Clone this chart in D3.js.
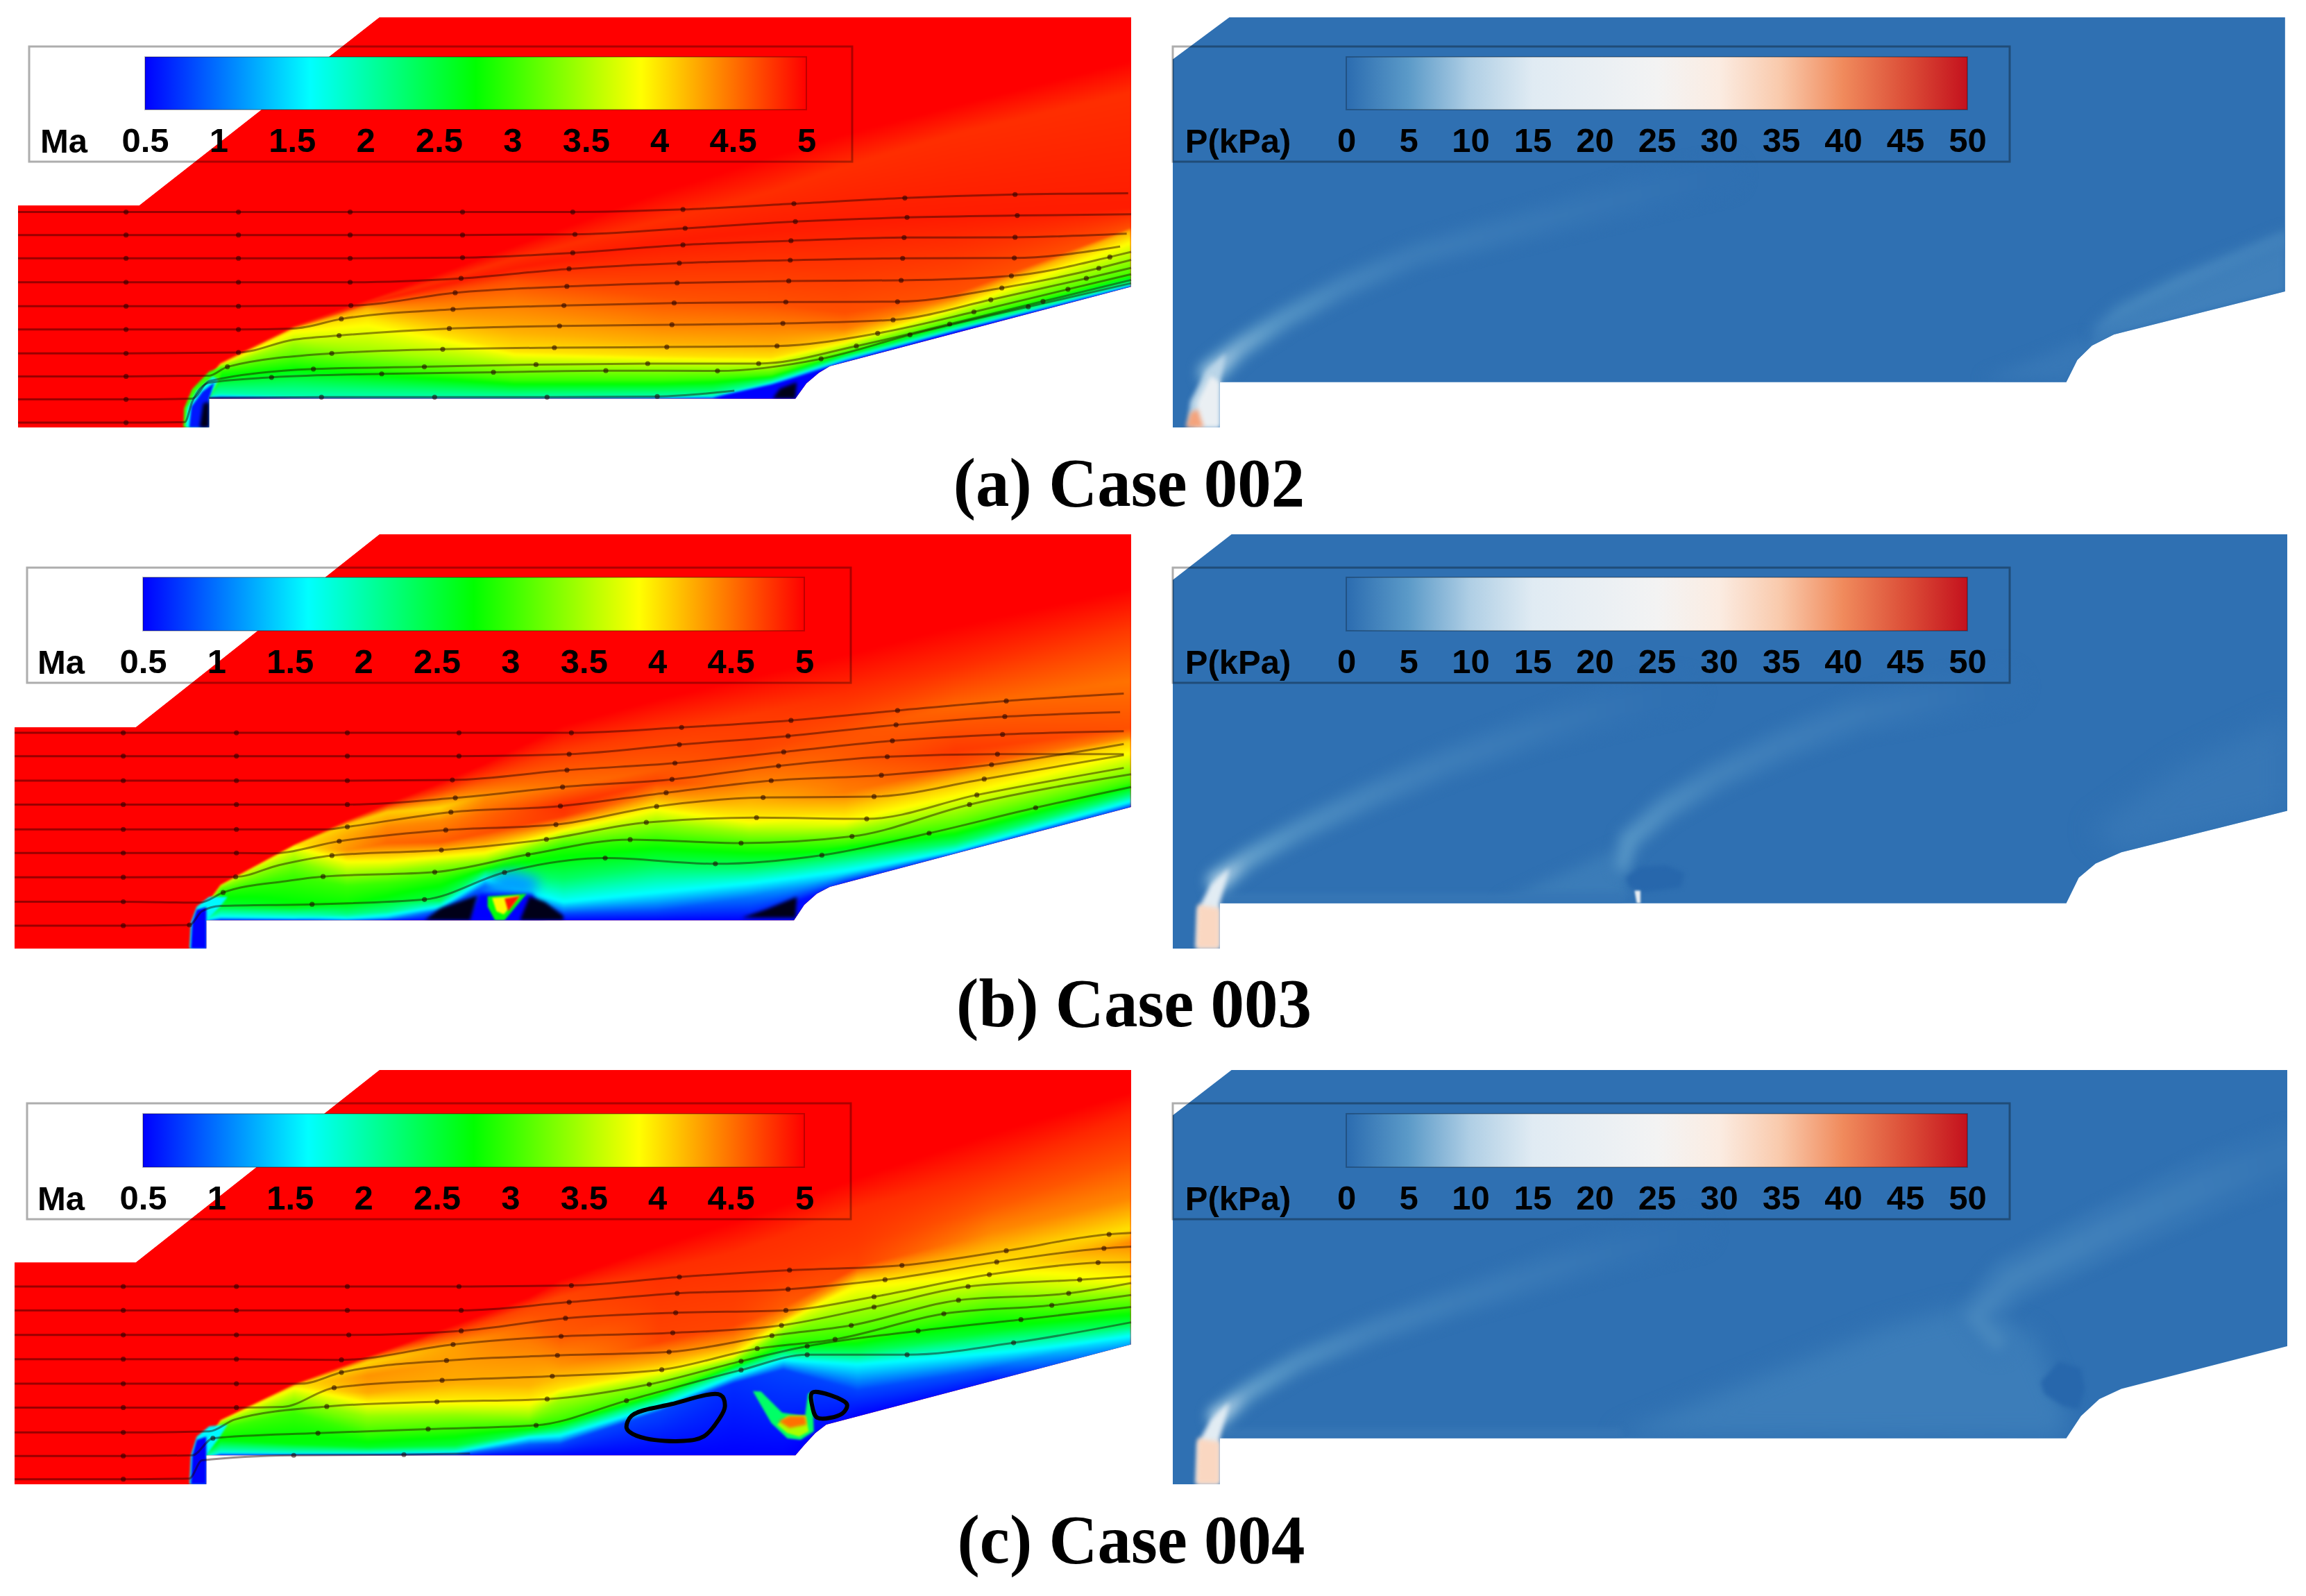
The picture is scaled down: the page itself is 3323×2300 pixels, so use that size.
<!DOCTYPE html>
<html>
<head>
<meta charset="utf-8">
<script src="https://cdn.jsdelivr.net/npm/d3@7"></script>
<style>
html, body { margin: 0; padding: 0; background: #fff; }
#field, #marks { position: absolute; left: 0; top: 0; }
</style>
</head>
<body>
<canvas id="field" width="3323" height="2300"></canvas>
<svg id="marks" width="3323" height="2300"></svg>
<script>
// colour bars
const machTicks = [0.5, 1, 1.5, 2, 2.5, 3, 3.5, 4, 4.5, 5];
const pressureTicks = [0, 5, 10, 15, 20, 25, 30, 35, 40, 45, 50];
const machStops = [0.5, 1.625, 2.75, 3.875, 5];
const machStopColors = ["#0000ff", "#00ffff", "#00ff00", "#ffff00", "#ff0000"];
const pressureStops = [0, 5, 10, 15, 25, 30, 35, 40, 45, 50];
const pressureStopColors = ["#2b6cb0", "#5b9ac8", "#b0cfe5", "#e0ebf3", "#f3f3f3", "#fbece2", "#f9c9ab", "#f08a5c", "#dc4f38", "#c4111d"];
const captions = ["(a) Case 002", "(b) Case 003", "(c) Case 004"];

// Outlines of the flow domains, in read-off units of each panel
const caseAMachDomain = [[25,645],[190,645],[517,55],[1540,55],[1540,899],[1130,1148],[1115,1169],[1098,1202],[1083,1250],[285,1250],[285,1340],[25,1340]];
const caseBMachDomain = [[20,628],[185,628],[517,22],[1540,22],[1540,878],[1130,1128],[1112,1150],[1095,1185],[1081,1233],[281,1233],[281,1322],[20,1322]];
const caseCMachDomain = [[20,590],[185,590],[517,25],[1540,25],[1540,830],[1125,1065],[1110,1090],[1095,1125],[1083,1155],[281,1155],[281,1240],[20,1240]];
const caseAPressureDomain = [[28,187],[105,55],[1543,55],[1543,915],[1310,1050],[1280,1085],[1260,1130],[1245,1200],[92,1200],[92,1342],[28,1342]];
const caseBPressureDomain = [[28,165],[108,22],[1546,22],[1546,890],[1320,1020],[1285,1055],[1262,1100],[1245,1180],[92,1180],[92,1322],[28,1322]];
const caseCPressureDomain = [[28,158],[108,25],[1546,25],[1546,835],[1320,960],[1290,990],[1265,1040],[1245,1105],[92,1105],[92,1240],[28,1240]];

// Mach profiles: at each station, the heights [ys] where the Mach number has the values [machs]
const caseAStations = [25, 250, 262, 300, 400, 500, 700, 900, 970, 1050, 1150, 1300, 1540];
const caseALevels = [5, 4.8, 4.88, 4.65, 4.44, 4.22, 4, 3.46, 3, 1.95, 0.5];
const caseAProfiles = [
  [[1400], [5]],
  [[1400], [5]],
  [[1240,1241,1242,1243,1244,1245,1246,1247,1248,1249,1250], caseALevels],
  [[1135,1136,1137,1138,1139,1140,1141,1145,1160,1235,1250], caseALevels],
  [[1020,1022,1024,1026,1027,1028,1030,1075,1130,1243,1250], caseALevels],
  [[940,945,949,953,957,967,995,1100,1150,1245,1250], caseALevels],
  [[770,810,840,880,950,1040,1100,1145,1190,1246,1250], caseALevels],
  [[600,690,760,930,1010,1075,1115,1150,1190,1243,1250], caseALevels],
  [[550,650,740,940,1015,1080,1118,1152,1185,1240,1250], caseALevels],
  [[490,600,720,950,1020,1085,1120,1150,1175,1196,1210], caseALevels],
  [[420,520,700,980,1030,1050,1068,1090,1105,1122,1135], caseALevels],
  [[330,420,680,920,932,945,960,985,1008,1030,1040], caseALevels],
  [[190,290,650,712,716,722,745,810,860,890,900], caseALevels]
];

const caseBStations = [20, 255, 265, 300, 400, 472, 527, 599, 660, 767, 893, 1020, 1150, 1300, 1540];
const caseBProfiles = [
  [[1400], [5]],
  [[1400], [5]],
  [[1230,1231,1232,1233,1234,1235,1236,1237,1238,1239,1240,1241], [5,4.5,3.9,3.7,3.6,3.5,3.3,2.9,2.5,1.6,0.9,0.5]],
  [[1120,1121,1122,1123,1124,1125,1130,1145,1190,1222,1230,1233], [5,4.5,3.9,3.7,3.6,3.5,3.3,2.9,2.5,1.6,0.9,0.5]],
  [[994,996,998,1000,1001,1014,1050,1095,1190,1226,1231,1233], [5,4.6,4,4,3.9,3.7,3.3,3,2.7,1.6,0.9,0.5]],
  [[918,924,932,965,1012,1050,1089,1125,1176,1212,1228,1233], [5,4.6,4.1,4.25,4.35,3.85,3.4,3,2.8,2.2,1.6,0.8]],
  [[866,876,892,940,990,1045,1080,1115,1165,1205,1225,1233], [5,4.7,4.1,4.4,4.55,3.9,3.4,3,2.7,2.1,1.3,0.5]],
  [[800,830,879,921,987,1031,1060,1104,1169,1190,1205,1233], [5,4.7,4.05,4.4,4.6,3.9,3.4,2.9,2.4,1.6,0.8,0.5]],
  [[740,780,840,900,958,1016,1045,1067,1085,1105,1125,1233], [5,4.75,4.35,4.55,4.65,3.95,3.4,2.9,2.2,1.6,0.9,0.5]],
  [[620,700,813,871,905,945,970,1000,1104,1176,1212,1233], [5,4.75,4.5,4.8,4.75,4,3.4,2.95,2.3,1.6,0.8,0.5]],
  [[540,640,760,798,834,877,928,980,1067,1147,1205,1233], [5,4.75,4.6,4.7,4.4,3.95,3.4,2.95,2.3,1.6,0.8,0.5]],
  [[470,590,700,813,871,922,959,995,1067,1118,1161,1233], [5,4.75,4.7,4.4,4.15,3.9,3.4,3,2.3,1.6,1,0.5]],
  [[400,520,640,730,830,885,925,955,990,1040,1085,1116], [5,4.8,4.65,4.6,4.45,4.1,3.85,3.4,3,2.2,1.5,0.6]],
  [[310,440,560,700,750,790,840,895,945,990,1015,1024], [5,4.8,4.55,4.75,4.65,4.2,3.9,3.4,3,2.3,1.6,0.7]],
  [[190,320,480,630,655,670,710,760,800,835,860,878], [5,4.75,4.5,4.65,4.4,4.1,3.85,3.4,3,2.3,1.6,0.7]]
];

const caseCStations = [20, 255, 265, 300, 400, 500, 620, 720, 762, 897, 998, 1066, 1167, 1350, 1540];
const caseCProfiles = [
  [[1400], [5]],
  [[1400], [5]],
  [[1160,1161,1162,1163,1164,1165,1166,1167,1168,1169,1170,1171], [5,4.4,4,3.9,3.8,3.6,3.3,3,2.7,1.8,1,0.5]],
  [[1050,1051,1052,1053,1054,1055,1060,1075,1110,1145,1152,1155], [5,4.4,4,3.9,3.8,3.6,3.3,3,2.7,1.8,1,0.5]],
  [[945,947,950,953,955,975,1000,1030,1120,1148,1153,1155], [5,4.6,4.1,4,3.9,3.6,3.3,3,2.7,1.8,1,0.5]],
  [[865,870,880,920,970,1000,1040,1090,1130,1148,1153,1155], [5,4.6,4.05,4.35,4.25,3.9,3.4,3,2.6,1.8,1,0.5]],
  [[770,790,830,880,940,1000,1035,1075,1125,1143,1152,1155], [5,4.75,4.3,4.3,4.25,3.9,3.4,3,2.5,1.8,1,0.5]],
  [[690,720,780,850,950,1000,1040,1070,1090,1100,1122,1155], [5,4.7,4.55,4.4,4.2,3.9,3.4,2.95,2.3,1.7,0.9,0.5]],
  [[640,690,808,889,930,957,991,1052,1080,1097,1121,1155], [5,4.7,4.6,4.35,4.15,4,3.46,3,2.2,1.6,0.8,0.5]],
  [[540,610,700,821,882,909,936,970,990,1011,1025,1155], [5,4.8,4.75,4.7,4.2,3.9,3.4,3,2.2,1.6,0.8,0.5]],
  [[470,560,660,774,828,862,875,889,905,923,943,1155], [5,4.8,4.75,4.7,4.3,3.9,3.4,3,2.2,1.6,0.7,0.5]],
  [[420,510,620,720,750,774,800,828,855,875,903,1155], [5,4.8,4.75,4.6,4.3,3.7,3.2,2.9,2.2,1.6,0.8,0.5]],
  [[340,430,530,600,625,650,720,815,855,889,964,1041], [5,4.8,4.75,4.7,4.3,3.95,3.5,2.9,2.3,1.6,0.8,0.5]],
  [[210,320,430,500,560,620,680,730,790,850,900,938], [5,4.8,4.6,4.4,4.15,3.9,3.4,3,2.6,1.7,0.9,0.6]],
  [[90,150,280,400,490,530,640,680,720,770,800,830], [5,4.85,4.65,4.4,4,4.4,3.9,3.4,3,2.4,1.7,1.2]]
];

// Small Mach patches that do not fit a column profile: [Mach, outline, blur]
const caseAMachPatches = [
  [3, [[250,1340],[251,1280],[262,1220],[285,1165],[303,1150],[298,1200],[285,1250],[285,1340]], 1.5],
  [1.7, [[253,1340],[255,1280],[268,1225],[290,1180],[298,1190],[285,1250],[285,1340]], 1.5],
  [0.6, [[258,1340],[261,1275],[276,1228],[292,1200],[285,1250],[285,1340]], 1.5],
  [0.5, [[970,1250],[1040,1215],[1085,1192],[1083,1250]], 2]
];
const caseBMachPatches = [
  [1.6, [[258,1322],[260,1240],[268,1190],[285,1160],[310,1160],[298,1195],[281,1233],[281,1322]], 1.5],
  [0.5, [[260,1322],[262,1240],[268,1200],[281,1192],[281,1322]], 1.5],
  [1.2, [[652,1155],[680,1085],[700,1078],[735,1105],[725,1158]], 9],
  [0.5, [[640,1233],[652,1150],[725,1150],[742,1233]], 3],
  [2.7, [[664,1158],[717,1150],[687,1233],[674,1233],[664,1190]], 1.5],
  [3.9, [[670,1163],[708,1156],[686,1215],[676,1205]], 1.5],
  [4.9, [[687,1165],[708,1157],[692,1205]], 1.5]
];
const caseCMachPatches = [
  [1.6, [[258,1240],[260,1155],[268,1100],[285,1070],[310,1065],[298,1105],[281,1155],[281,1240]], 1.5],
  [0.5, [[260,1240],[262,1155],[268,1110],[281,1100],[281,1240]], 1.5],
  [2.3, [[1025,967],[1036,968],[1065,1030],[1096,1040],[1100,975],[1106,968],[1108,1085],[1090,1110],[1072,1105],[1050,1060]], 1.5],
  [3.5, [[1058,1065],[1072,1040],[1097,1038],[1101,1085],[1088,1100],[1072,1090]], 1.5],
  [4.5, [[1060,1055],[1075,1040],[1096,1040],[1098,1065],[1075,1075]], 2]
];

// Recirculation areas where the streamlines pack into black
const caseADensePatches = [[[272,1340],[277,1265],[285,1260],[285,1340]], [[1052,1250],[1062,1218],[1085,1198],[1083,1250]]];
const caseBDensePatches = [
  [[578,1233],[600,1195],[650,1155],[640,1233]],
  [[708,1233],[721,1158],[742,1176],[767,1219],[767,1233]],
  [[1010,1225],[1042,1200],[1085,1160],[1083,1225]]
];
const caseCDensePatches = [];
const caseCBubbles = [
  [[853,1073],[860,1039],[914,1005],[981,978],[987,1012],[978,1052],[958,1100],[931,1113],[880,1106],[857,1086]],
  [[1106,971],[1153,1005],[1147,1032],[1113,1045],[1106,1012]]
];

// Streamlines, one point per arrow mark on the line; a third entry means the point carries no mark
const caseAStreamlines = [
  [[25,665],[172,665],[325,665],[477,665],[630,665],[780,665],[930,657],[1081,639],[1232,621],[1382,610],[1536,606]],
  [[25,737],[172,737],[325,737],[477,737],[630,737],[783,735],[933,716],[1083,695],[1235,682],[1385,676],[1540,672]],
  [[25,810],[172,810],[325,810],[477,810],[630,808],[780,793],[930,768],[1077,755],[1231,745],[1382,744],[1534,733]],
  [[25,885],[172,885],[325,885],[477,885],[628,873],[775,843],[925,825],[1076,816],[1229,810],[1381,809],[1525,773]],
  [[25,960],[172,960],[325,960],[478,958],[620,918],[772,898],[922,887],[1074,881],[1227,879],[1377,865],[1511,806],[1540,790]],
  [[25,1033],[172,1033],[325,1033],[400,1030,0],[465,1000],[617,970],[768,958],[918,950],[1070,947],[1222,946],[1364,903],[1496,841],[1540,815]],
  [[25,1108],[172,1108],[325,1105],[400,1065,0],[462,1052],[612,1030],[762,1022],[915,1018],[1066,1014],[1216,1003],[1349,940],[1479,873],[1540,840]],
  [[25,1180],[172,1180],[285,1178,0],[310,1150],[452,1108],[603,1095],[755,1090],[908,1088],[1058,1085],[1195,1045],[1326,978],[1454,907],[1540,860]],
  [[25,1252],[172,1252],[262,1250,0],[285,1195,0],[427,1157],[578,1150],[730,1143],[882,1140],[1033,1140],[1166,1085],[1293,1016],[1420,945],[1540,878]],
  [[25,1325],[172,1325],[252,1323,0],[262,1260,0],[285,1200,0],[370,1183],[520,1172],[672,1167],[825,1162],[977,1163],[1118,1125],[1239,1050],[1400,962],[1540,888]],
  [[285,1247],[438,1245],[592,1245],[745,1245],[895,1243],[1000,1225]]
];
const caseBStreamlines = [
  [[20,645],[168,645],[322,645],[473,645],[625,645],[778,645],[928,628],[1077,606],[1222,575],[1370,545],[1530,522]],
  [[20,718],[168,718],[322,718],[473,718],[625,718],[775,712],[925,682],[1073,655],[1220,620],[1368,594],[1525,580]],
  [[20,795],[168,795],[322,795],[473,795],[616,793],[772,762],[919,740],[1067,705],[1215,670],[1365,650],[1530,640]],
  [[20,870],[168,870],[322,870],[473,870],[620,849],[766,815],[915,791],[1060,749],[1208,720],[1358,712],[1530,712]],
  [[20,948],[168,948],[322,948],[445,948,0],[473,940],[614,894],[763,875],[907,833],[1050,795],[1200,778],[1350,745],[1530,680]],
  [[20,1022],[168,1022],[322,1022],[371,1023,0],[462,985],[607,950],[757,933],[894,876],[1039,848],[1190,845],[1340,790],[1530,715]],
  [[20,1098],[168,1098],[321,1097],[380,1060,0],[452,1030],[601,1013],[744,979],[880,926],[1030,911],[1180,915],[1330,840],[1530,755]],
  [[20,1175],[168,1175],[272,1178,0],[304,1146],[390,1110,0],[440,1096],[592,1082],[719,1027],[858,980],[1009,991],[1160,970],[1320,870],[1540,775]],
  [[20,1250],[168,1250],[258,1248],[275,1205,0],[300,1188,0],[425,1183],[578,1168],[687,1083],[824,1038],[974,1056],[1119,1029],[1265,960],[1410,880],[1540,815]]
];
const caseCStreamlines = [
  [[20,660],[168,660],[322,660],[473,660],[625,660],[778,657],[925,632],[1075,612],[1228,598],[1370,555],[1510,507],[1540,503]],
  [[20,730],[168,730],[322,730],[473,730],[628,730],[775,706],[922,680],[1073,668],[1205,640],[1357,588],[1503,548],[1540,543]],
  [[20,802],[168,802],[322,802],[475,802],[628,790],[770,753],[920,737],[1070,730],[1190,690],[1347,625],[1495,590],[1540,588]],
  [[20,873],[168,873],[322,873],[465,875],[617,830],[764,806],[916,796],[1064,774],[1190,720],[1318,660],[1470,640],[1540,630]],
  [[20,945],[168,945],[322,945],[410,945,0],[465,912],[608,877],[759,862],[911,852],[1051,804],[1159,774],[1305,700],[1455,680],[1540,650]],
  [[20,1015],[168,1015],[322,1015],[385,1013,0],[455,957],[602,935],[752,923],[901,904],[1031,842],[1137,815],[1285,740],[1432,715],[1540,685]],
  [[20,1088],[168,1088],[285,1085,0],[320,1050,0],[445,1012],[595,998],[745,990],[884,947],[1009,879],[1099,835],[1250,790],[1390,757],[1540,720]],
  [[20,1157],[168,1157],[262,1155,0],[290,1105],[433,1090],[583,1078],[730,1067],[853,995],[1009,905],[1099,860],[1235,860],[1380,825],[1540,765]],
  [[20,1225],[168,1225],[258,1223,0],[275,1170,0],[400,1155],[550,1153],[640,1150]]
];

// Pressure: soft regions [kPa, outline, blur] and shock ridges [x, y, kPa, width]
const caseAPressureAreas = [
  [2.2, [[1270,1100],[1300,1010],[1400,880],[1543,730],[1543,915],[1310,1050]], 5],
  [1.2, [[1130,1190],[1210,1120],[1270,1060],[1290,1100],[1245,1200]], 10],
  [11, [[48,1342],[52,1260],[72,1170],[100,1110],[92,1200],[92,1342]], 3],
  [20, [[58,1342],[62,1260],[80,1180],[92,1200],[92,1342]], 3],
  [38, [[46,1342],[52,1295],[62,1285],[70,1342]], 3]
];
const caseBPressureAreas = [
  [1.2, [[1280,950],[1400,750],[1546,590],[1546,890],[1320,1020]], 18],
  [1.7, [[470,1180],[640,1000],[650,1170]], 10],
  [1.1, [[95,1150],[640,1150],[640,1180],[95,1180]], 4],
  [16, [[60,1322],[62,1200],[80,1120],[105,1070],[92,1180],[92,1322]], 3],
  [33, [[60,1322],[62,1185],[92,1195],[92,1322]], 3]
];
const caseCPressureAreas = [
  [1.8, [[630,1100],[800,950],[1000,780],[1100,720],[1200,800],[1245,1040],[1240,1105]], 16],
  [1.1, [[95,1075],[640,1075],[640,1105],[95,1105]], 4],
  [16, [[60,1240],[62,1120],[80,1050],[105,1000],[92,1105],[92,1240]], 3],
  [33, [[60,1240],[62,1105],[92,1115],[92,1240]], 3]
];
const caseAPressureRidges = [
  [[80,1170,12,26],[120,1090,7,24],[180,1000,4.5,24],[260,900,2.8,26],[360,800,1.8,28],[520,700,1.3,34],[680,600,0.8,40],[780,550,0.4,40]],
  [[1290,1040,2,18],[1320,980,3,18],[1400,890,3,20],[1543,750,2.6,18]]
];
const caseBPressureRidges = [
  [[90,1110,13,24],[130,1040,6,24],[200,950,3.8,26],[300,840,2.6,30],[400,740,1.9,34],[520,640,1.4,38],[620,570,0.9,44],[720,520,0.4,44]],
  [[640,1060,4.5,18],[650,980,4.6,24],[700,880,3.6,28],[770,780,2.4,32],[860,680,1.9,36],[960,590,1.5,40],[1060,540,1,46],[1160,500,0.4,46]]
];
const caseCPressureRidges = [
  [[90,1040,14,22],[130,970,6,22],[200,880,3.8,24],[300,790,2.4,28],[420,700,1.8,32],[560,600,1.3,38],[640,550,0.9,40],[740,500,0.4,40]],
  [[1150,820,2.8,40],[1120,750,2.8,34],[1170,640,2.4,44],[1300,500,2.1,50],[1450,350,1.6,56],[1546,270,1,56]]
];
// Low pressure pockets behind the jets, slightly darker than the bar's first colour
const caseBPressurePockets = [[[645,1100],[665,1065],[700,1060],[725,1085],[720,1130],[670,1145],[650,1130]]];
const caseCPressurePockets = [[[1210,940],[1235,880],[1265,900],[1270,960],[1262,1020],[1240,1010],[1215,975]]];
const caseBPressureSlits = [[[657,1140],[665,1140],[665,1180],[660,1180]]];

// ---- layout ----
const rowLayout = [
  { top: 25, bottom: 616, readY: [55, 1342], frame: [67, 233], bar: [82, 158], captionX: 1627, captionY: 729, maX: [26, 1630], readMaX: [25, 1540], maY: [55, 1340], leg: [42, 1228, 209, 1162], title: 92 },
  { top: 770, bottom: 1367, readY: [22, 1322], frame: [818, 984], bar: [832, 909], captionX: 1634, captionY: 1479, maX: [21, 1630], readMaX: [20, 1540], maY: [22, 1322], leg: [39, 1226, 206, 1159], title: 88 },
  { top: 1542, bottom: 2139, readY: [25, 1240], frame: [1590, 1757], bar: [1605, 1682], captionX: 1630, captionY: 2252, maX: [21, 1630], readMaX: [20, 1540], maY: [25, 1240], leg: [39, 1226, 206, 1159], title: 88 }
];
const pressureLayout = { x: [1690, 3296], readX: [28, 1546], frame: [1690, 2896], bar: [1940, 2835], title: 1784 };

const machColor = d3.scaleLinear().domain(machStops).range(machStopColors).clamp(true);
const pressureColor = d3.scaleLinear().domain(pressureStops).range(pressureStopColors).clamp(true);

const canvas = document.getElementById("field");
const ctx = canvas.getContext("2d");
const svg = d3.select("#marks");
const defs = svg.append("defs");

function gradient(id, stops, colors) {
    const g = defs.append("linearGradient").attr("id", id);
    const off = d3.scaleLinear().domain(d3.extent(stops)).range([0, 100]);
    stops.forEach((s, i) => g.append("stop").attr("offset", off(s) + "%").attr("stop-color", colors[i]));
}
gradient("machBar", machStops, machStopColors);
gradient("pressureBar", pressureStops, pressureStopColors);

function domainPath(c, x, y, pts) {
    d3.line().x(d => x(d[0])).y(d => y(d[1])).context(c)(pts);
    c.closePath();
}

function fillPatch(x, y, pts, color, blur) {
    ctx.save();
    ctx.filter = `blur(${blur}px)`;
    ctx.fillStyle = color;
    ctx.beginPath();
    domainPath(ctx, x, y, pts);
    ctx.fill();
    ctx.restore();
}

// raster of the Mach field, column by column between the stations
function paintMach(x, y, stations, profiles) {
    const [x0, x1] = x.range(), [y0, y1] = y.range();
    const w = Math.ceil(x1 - x0), h = Math.ceil(y1 - y0);
    const off = document.createElement("canvas");
    off.width = w; off.height = h;
    const offCtx = off.getContext("2d");
    const img = offCtx.createImageData(w, h);
    const lut = d3.range(1025).map(i => d3.rgb(machColor(0.5 + 4.5 * i / 1024)));
    const n = d3.max(profiles, p => p[0].length);
    const ys = new Array(n), ms = new Array(n);
    for (let px = 0; px < w; px++) {
        const dx = x.invert(x0 + px);
        const s = Math.min(d3.bisectRight(stations, dx) - 1, stations.length - 2);
        const t = (dx - stations[s]) / (stations[s + 1] - stations[s]);
        const [ya, ma] = profiles[s], [yb, mb] = profiles[s + 1];
        for (let i = 0; i < n; i++) {
            const ia = Math.min(i, ya.length - 1), ib = Math.min(i, yb.length - 1);
            ys[i] = ya[ia] + (yb[ib] - ya[ia]) * t;
            ms[i] = ma[Math.min(i, ma.length - 1)] + (mb[Math.min(i, mb.length - 1)] - ma[Math.min(i, ma.length - 1)]) * t;
            if (i > 0 && ys[i] < ys[i - 1]) ys[i] = ys[i - 1];
        }
        let k = 0;
        for (let py = 0; py < h; py++) {
            const dy = y.invert(y0 + py);
            while (k < n - 2 && dy > ys[k + 1]) k++;
            const gap = ys[k + 1] - ys[k];
            const f = gap > 0 ? Math.max(0, Math.min(1, (dy - ys[k]) / gap)) : 1;
            const m = dy > ys[n - 1] ? ms[n - 1] : ms[k] + (ms[k + 1] - ms[k]) * f;
            const c = lut[Math.max(0, Math.min(1024, Math.round((m - 0.5) / 4.5 * 1024)))];
            const o = (py * w + px) * 4;
            img.data[o] = c.r; img.data[o + 1] = c.g; img.data[o + 2] = c.b; img.data[o + 3] = 255;
        }
    }
    offCtx.putImageData(img, 0, 0);
    ctx.save();
    ctx.filter = "blur(1.5px)";
    ctx.drawImage(off, x0, y0);
    ctx.restore();
}

function drawMachPanel(row, domain, stations, profiles, patches, dense, bubbles, streamlines) {
    const x = d3.scaleLinear().domain(row.readMaX).range(row.maX);
    const y = d3.scaleLinear().domain(row.maY).range([row.top, row.bottom]);

    ctx.save();
    ctx.fillStyle = machColor(5);
    ctx.beginPath();
    domainPath(ctx, x, y, domain);
    ctx.fill();
    ctx.clip();
    paintMach(x, y, stations, profiles);
    patches.forEach(p => fillPatch(x, y, p[1], machColor(p[0]), p[2]));
    dense.forEach(p => fillPatch(x, y, p, "#000018", 2.5));
    ctx.restore();

    const g = svg.append("g");
    const line = d3.line().x(d => x(d[0])).y(d => y(d[1])).curve(d3.curveMonotoneX);
    g.selectAll("path.stream").data(streamlines).join("path")
        .attr("class", "stream").attr("fill", "none")
        .attr("stroke", "#200000").attr("stroke-opacity", 0.45).attr("stroke-width", 3)
        .attr("d", line);
    g.selectAll("g.marks").data(streamlines).join("g").attr("class", "marks")
        .selectAll("circle").data(d => d.slice(1, -1).filter(p => p.length === 2)).join("circle")
        .attr("cx", d => x(d[0])).attr("cy", d => y(d[1])).attr("r", 3.6)
        .attr("fill", "#200000").attr("fill-opacity", 0.55);
    g.selectAll("path.bubble").data(bubbles).join("path")
        .attr("class", "bubble").attr("fill", "none").attr("stroke", "#000").attr("stroke-width", 6)
        .attr("d", d3.line().x(d => x(d[0])).y(d => y(d[1])).curve(d3.curveCatmullRomClosed));
}

function drawPressurePanel(row, domain, areas, ridges, pockets, slits) {
    const x = d3.scaleLinear().domain(pressureLayout.readX).range(pressureLayout.x);
    const y = d3.scaleLinear().domain(row.readY).range([row.top, row.bottom]);

    ctx.save();
    ctx.beginPath();
    domainPath(ctx, x, y, domain);
    ctx.fillStyle = pressureColor(0.4);
    ctx.fill();
    ctx.clip();
    areas.filter(a => a[0] < 5).forEach(a => fillPatch(x, y, a[1], pressureColor(a[0]), a[2]));

    // ridges go on a layer of their own, which is blurred once: a wide faint pass, then the crest
    const layer = document.createElement("canvas");
    layer.width = canvas.width; layer.height = canvas.height;
    const lc = layer.getContext("2d");
    lc.lineCap = "round";
    [[2.2, 0.5], [1, 1]].forEach(([widthFactor, levelFactor]) => {
        ridges.forEach(r => {
            d3.pairs(r).forEach(([a, b]) => {
                const xi = d3.interpolateNumber(a[0], b[0]), yi = d3.interpolateNumber(a[1], b[1]);
                const pi = d3.interpolateNumber(a[2], b[2]), wi = d3.interpolateNumber(a[3], b[3]);
                d3.range(8).forEach(i => {
                    lc.strokeStyle = pressureColor(0.4 + (pi((i + 0.5) / 8) - 0.4) * levelFactor);
                    lc.lineWidth = wi((i + 0.5) / 8) * 0.7 * widthFactor;
                    lc.beginPath();
                    lc.moveTo(x(xi(i / 8)), y(yi(i / 8)));
                    lc.lineTo(x(xi((i + 1) / 8)), y(yi((i + 1) / 8)));
                    lc.stroke();
                });
            });
        });
    });
    ctx.save();
    ctx.filter = "blur(8px)";
    ctx.drawImage(layer, 0, 0);
    ctx.restore();

    pockets.forEach(p => fillPatch(x, y, p, "#2767ac", 3));
    areas.filter(a => a[0] >= 5).forEach(a => fillPatch(x, y, a[1], pressureColor(a[0]), a[2]));
    slits.forEach(p => fillPatch(x, y, p, pressureColor(20), 1.5));
    ctx.restore();
}

function drawLegend(row, barId, title, ticks, barRange, frameRange, titleX) {
    const g = svg.append("g");
    const scale = d3.scaleLinear().domain(d3.extent(ticks)).range(barRange);
    g.append("rect")
        .attr("x", frameRange[0]).attr("y", row.frame[0])
        .attr("width", frameRange[1] - frameRange[0]).attr("height", row.frame[1] - row.frame[0])
        .attr("fill", "none").attr("stroke", "#000").attr("stroke-opacity", 0.32).attr("stroke-width", 3);
    g.append("rect")
        .attr("x", barRange[0]).attr("y", row.bar[0])
        .attr("width", barRange[1] - barRange[0]).attr("height", row.bar[1] - row.bar[0])
        .attr("fill", `url(#${barId})`).attr("stroke", "#000").attr("stroke-opacity", 0.25).attr("stroke-width", 2);

    const axis = d3.axisBottom(scale).tickValues(ticks).tickFormat(d => d).tickSize(0).tickPadding(0);
    const ag = g.append("g").attr("transform", `translate(0,${row.frame[1] - 48.5})`).call(axis);
    ag.select(".domain").remove();
    ag.selectAll("text")
        .attr("font-family", "'Liberation Sans', Arial, sans-serif")
        .attr("font-weight", "bold").attr("font-size", 49).attr("fill", "#000");
    g.append("text").attr("x", titleX).attr("y", row.frame[1] - 13.5)
        .attr("text-anchor", "middle")
        .attr("font-family", "'Liberation Sans', Arial, sans-serif")
        .attr("font-weight", "bold").attr("font-size", 49).attr("fill", "#000")
        .text(title);
}

drawMachPanel(rowLayout[0], caseAMachDomain, caseAStations, caseAProfiles, caseAMachPatches, caseADensePatches, [], caseAStreamlines);
drawMachPanel(rowLayout[1], caseBMachDomain, caseBStations, caseBProfiles, caseBMachPatches, caseBDensePatches, [], caseBStreamlines);
drawMachPanel(rowLayout[2], caseCMachDomain, caseCStations, caseCProfiles, caseCMachPatches, caseCDensePatches, caseCBubbles, caseCStreamlines);

drawPressurePanel(rowLayout[0], caseAPressureDomain, caseAPressureAreas, caseAPressureRidges, [], []);
drawPressurePanel(rowLayout[1], caseBPressureDomain, caseBPressureAreas, caseBPressureRidges, caseBPressurePockets, caseBPressureSlits);
drawPressurePanel(rowLayout[2], caseCPressureDomain, caseCPressureAreas, caseCPressureRidges, caseCPressurePockets, []);

rowLayout.forEach((row, i) => {
    drawLegend(row, "machBar", "Ma", machTicks, [row.leg[2], row.leg[3]], [row.leg[0], row.leg[1]], row.title);
    drawLegend(row, "pressureBar", "P(kPa)", pressureTicks, pressureLayout.bar, pressureLayout.frame, pressureLayout.title);
    svg.append("text")
        .attr("transform", `translate(${row.captionX},${row.captionY}) scale(1,1.03)`)
        .attr("text-anchor", "middle")
        .attr("font-family", "'Liberation Serif', 'Times New Roman', serif")
        .attr("font-weight", "bold").attr("font-size", 97).attr("fill", "#000")
        .text(captions[i]);
});
</script>
</body>
</html>
